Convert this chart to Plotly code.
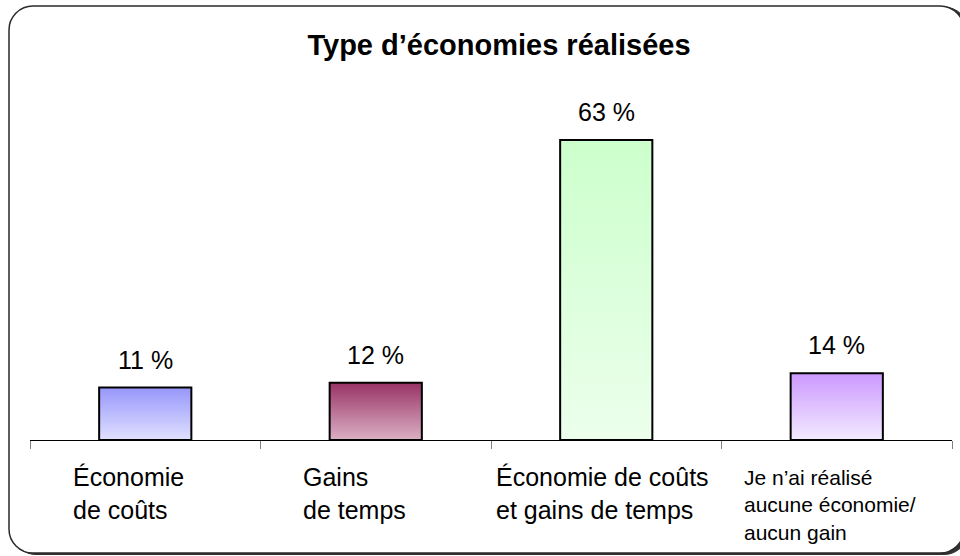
import plotly.graph_objects as go

# ---- data ----
categories = [
    "Économie<br>de coûts",
    "Gains<br>de temps",
    "Économie de coûts<br>et gains de temps",
    "Je n’ai réalisé<br>aucune économie/<br>aucun gain",
]
values = [11, 12, 63, 14]
value_labels = ["11 %", "12 %", "63 %", "14 %"]
top_colors = ["#9797fb", "#993366", "#ccffcc", "#cc99ff"]
bottom_colors = ["#e0e0ff", "#dbb0c4", "#ecffec", "#f3eaff"]
title_text = "Type d’économies réalisées"

W, H = 960, 556
ML, MR, MT, MB = 30, 8, 60, 116
PW, PH = W - ML - MR, H - MT - MB
px_per_unit = 300 / 63.0
ymax = PH / px_per_unit
bar_w = 0.40


def px2paper(px, py):
    return (px - ML) / PW, (H - MB - py) / PH


fig = go.Figure()

for i, (v, tc, bc) in enumerate(zip(values, top_colors, bottom_colors)):
    xc = i + 0.5
    x0, x1 = xc - bar_w / 2, xc + bar_w / 2
    fig.add_trace(go.Scatter(
        x=[x0, x1, x1, x0, x0], y=[0, 0, v, v, 0],
        mode="lines", fill="toself",
        fillgradient=dict(type="vertical",
                          colorscale=[[0, bc], [1, tc]],
                          start=0, stop=v),
        line=dict(color="#000000", width=2),
        hoverinfo="skip", showlegend=False,
    ))
    fig.add_annotation(x=xc, y=v, xref="x", yref="y", text=value_labels[i],
                       showarrow=False, yanchor="middle", yshift=28,
                       font=dict(size=25, color="#000000"))

# category labels (left aligned blocks)
label_px = [71, 301, 494, 742]
label_sizes = [25, 25, 25, 21]
label_shift = [-21, -21, -21, -24]
for i, (cat, lx, fs, ys) in enumerate(zip(categories, label_px, label_sizes, label_shift)):
    xp, _ = px2paper(lx, 0)
    fig.add_annotation(x=xp, xref="paper", y=0, yref="y", text=cat,
                       showarrow=False, xanchor="left", yanchor="top",
                       align="left", yshift=ys,
                       font=dict(size=fs, color="#000000"))

# rounded frame
def rounded_path(l, t, r, b, rad):
    def P(x, y):
        px, py = px2paper(x, y)
        return f"{px:.5f},{py:.5f}"
    k = 0.4477
    return (f"M {P(l + rad, t)} L {P(r - rad, t)} "
            f"C {P(r - rad * k, t)} {P(r, t + rad * k)} {P(r, t + rad)} "
            f"L {P(r, b - rad)} "
            f"C {P(r, b - rad * k)} {P(r - rad * k, b)} {P(r - rad, b)} "
            f"L {P(l + rad, b)} "
            f"C {P(l + rad * k, b)} {P(l, b - rad * k)} {P(l, b - rad)} "
            f"L {P(l, t + rad)} "
            f"C {P(l, t + rad * k)} {P(l + rad * k, t)} {P(l + rad, t)} Z")

fig.add_shape(type="path", path=rounded_path(12, 7, 968, 554.5, 24),
              xref="paper", yref="paper", layer="below",
              fillcolor="#333333", line=dict(color="#333333", width=1))
fig.add_shape(type="path", path=rounded_path(9, 6, 964, 553, 24),
              xref="paper", yref="paper", layer="below",
              fillcolor="#ffffff", line=dict(color="#2a2a2a", width=1.5))

fig.update_layout(
    width=W, height=H,
    margin=dict(l=ML, r=MR, t=MT, b=MB),
    paper_bgcolor="#ffffff", plot_bgcolor="rgba(0,0,0,0)",
    font=dict(family="Liberation Sans, Arial, sans-serif", color="#000000"),
    title=dict(text=f"<b>{title_text}</b>", x=499 / W, xanchor="center",
               y=1 - 45 / H, yanchor="middle",
               font=dict(size=29, color="#000000")),
    showlegend=False,
)
fig.update_xaxes(range=[0, 4], tickvals=[0, 1, 2, 3, 4], ticktext=["", "", "", "", ""],
                 ticks="outside", ticklen=8, tickcolor="#808080", tickwidth=1,
                 showline=True, linecolor="#000000", linewidth=1,
                 showgrid=False, zeroline=False, fixedrange=True)
fig.update_yaxes(range=[0, ymax], visible=False, showgrid=False, zeroline=False,
                 fixedrange=True)

fig.write_html("out.html", config={"displayModeBar": False},
               post_script="document.body.style.margin='0';document.body.style.overflow='hidden';")
